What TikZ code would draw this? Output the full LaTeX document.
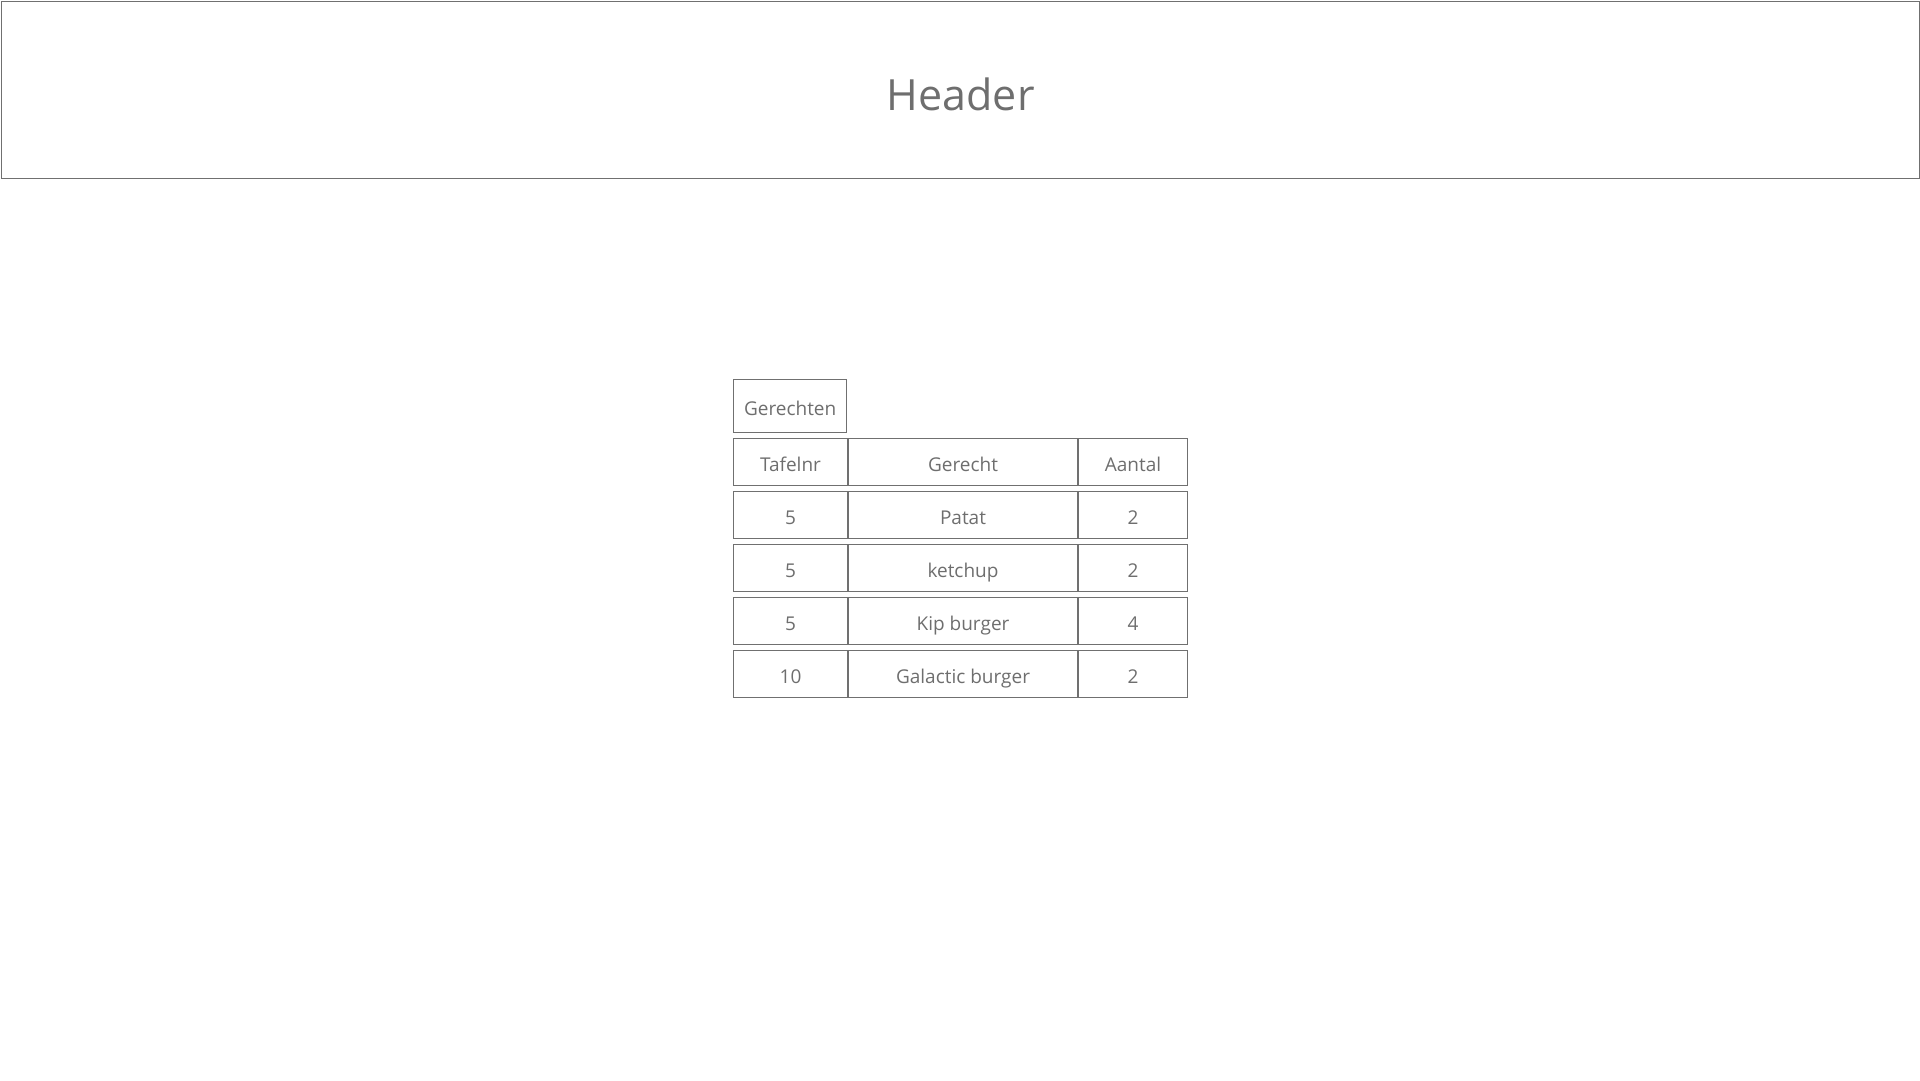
\documentclass[tikz,border=0pt]{standalone}
\usepackage{fontspec}
\setmainfont{Open Sans}
\usetikzlibrary{positioning}
\definecolor{linegray}{HTML}{707070}
\definecolor{textgray}{HTML}{6E6E6E}

\begin{document}
\begin{tikzpicture}[x=1pt, y=-1pt,
  box/.style={draw=linegray, line width=1.3pt, text=textgray, inner sep=0pt},
  cell/.style={box, minimum height=47pt, text height=19pt, text depth=0pt,
    font=\fontsize{19}{23}\selectfont},
]
  \useasboundingbox (0,0) rectangle (1920,1080);
  % header bar
  \node[box, anchor=north west, minimum width=1918pt, minimum height=177pt,
    text height=41pt, text depth=0pt, font=\fontsize{43}{52}\selectfont] (header) at (1,1) {Header};
  % table title
  \node[cell, anchor=north west, minimum width=113pt, minimum height=53pt] (title) at (733,379) {Gerechten};
  % table rows
  \foreach \tafel/\gerecht/\aantal [count=\r] in
    {Tafelnr/Gerecht/Aantal, 5/Patat/2, 5/ketchup/2, 5/Kip burger/4, 10/Galactic burger/2} {
    \node[cell, anchor=north west, minimum width=113.7pt] (t\r) at (733,{438+(\r-1)*53}) {\tafel};
    \node[cell, minimum width=228.7pt, right=0pt of t\r] (g\r) {\gerecht};
    \node[cell, minimum width=108.7pt, right=0pt of g\r] (a\r) {\aantal};
  }
\end{tikzpicture}
\end{document}
